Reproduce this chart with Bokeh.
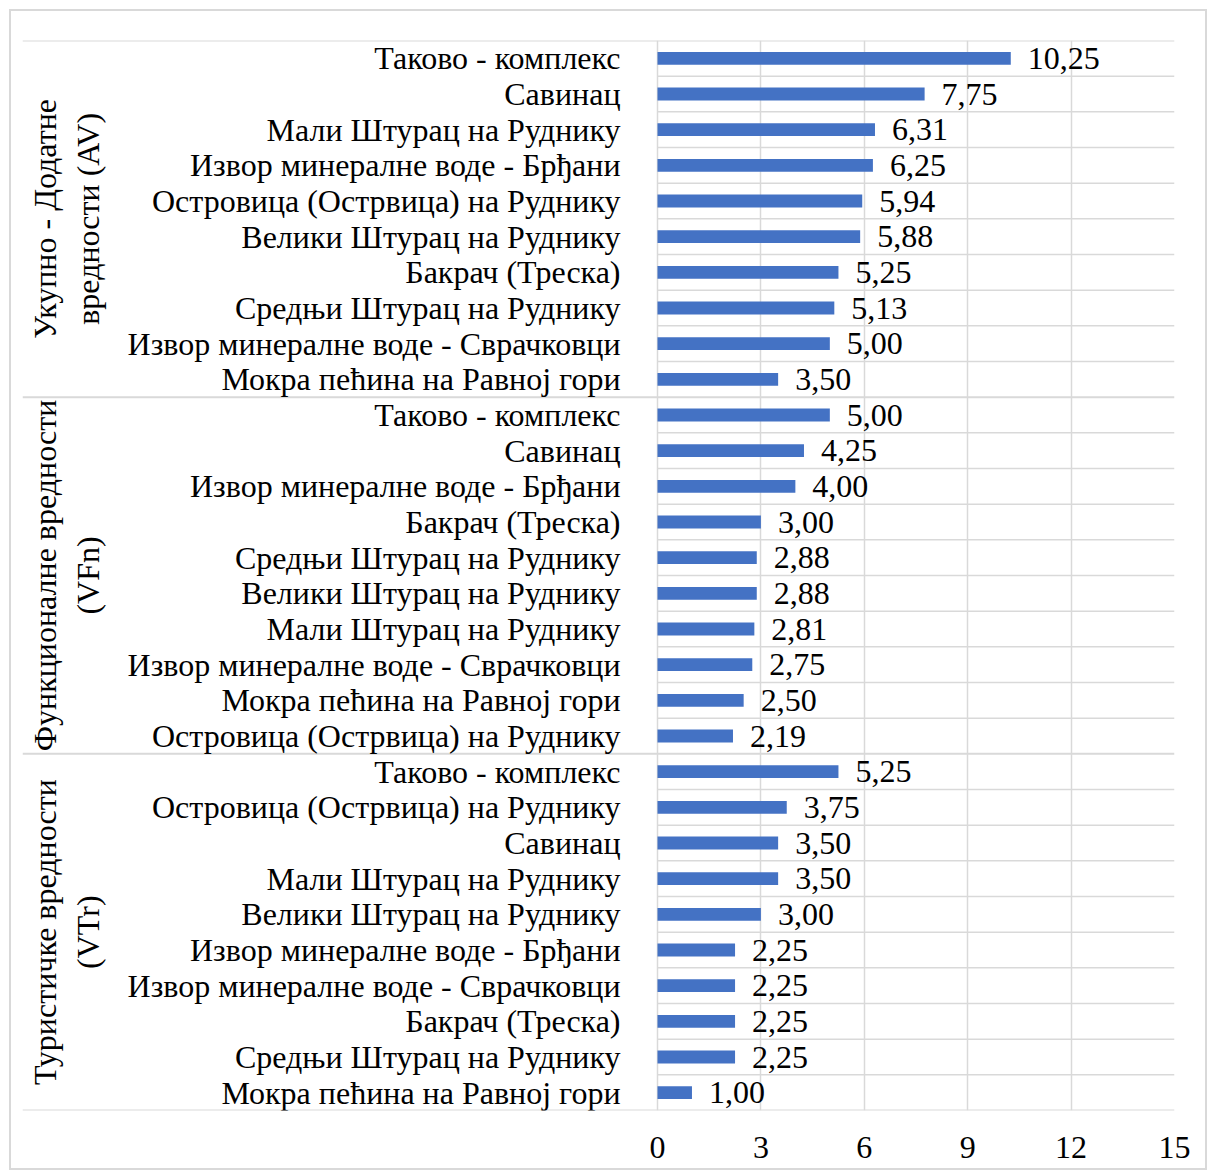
import math
from bokeh.plotting import figure
from bokeh.models import Range1d, FixedTicker, ColumnDataSource
from bokeh.core.properties import value
from bokeh.embed import file_html
from bokeh.resources import INLINE

# ---- data ----
group_line1 = ["Укупно - Додатне", "Функционалне вредности", "Туристичке вредности"]
group_line2 = ["вредности (AV)", "(VFn)", "(VTr)"]

names_av = ["Таково - комплекс", "Савинац", "Мали Штурац на Руднику",
            "Извор минералне воде - Брђани", "Островица (Острвица) на Руднику",
            "Велики Штурац на Руднику", "Бакрач (Треска)", "Средњи Штурац на Руднику",
            "Извор минералне воде - Сврачковци", "Мокра пећина на Равној гори"]
values_av = [10.25, 7.75, 6.31, 6.25, 5.94, 5.88, 5.25, 5.13, 5.00, 3.50]

names_vfn = ["Таково - комплекс", "Савинац", "Извор минералне воде - Брђани",
             "Бакрач (Треска)", "Средњи Штурац на Руднику", "Велики Штурац на Руднику",
             "Мали Штурац на Руднику", "Извор минералне воде - Сврачковци",
             "Мокра пећина на Равној гори", "Островица (Острвица) на Руднику"]
values_vfn = [5.00, 4.25, 4.00, 3.00, 2.88, 2.88, 2.81, 2.75, 2.50, 2.19]

names_vtr = ["Таково - комплекс", "Островица (Острвица) на Руднику", "Савинац",
             "Мали Штурац на Руднику", "Велики Штурац на Руднику",
             "Извор минералне воде - Брђани", "Извор минералне воде - Сврачковци",
             "Бакрач (Треска)", "Средњи Штурац на Руднику", "Мокра пећина на Равној гори"]
values_vtr = [5.25, 3.75, 3.50, 3.50, 3.00, 2.25, 2.25, 2.25, 2.25, 1.00]

x_ticks = [0, 3, 6, 9, 12, 15]

# ---- derived ----
all_names = names_av + names_vfn + names_vtr
all_values = values_av + values_vfn + values_vtr
n = len(all_names)
centers = [i + 0.5 for i in range(n)]
labels = [f"{v:.2f}".replace(".", ",") for v in all_values]
group_sizes = [len(names_av), len(names_vfn), len(names_vtr)]
group_bounds = [0]
for s in group_sizes:
    group_bounds.append(group_bounds[-1] + s)
group_centers = [(group_bounds[k] + group_bounds[k + 1]) / 2 for k in range(3)]
inner_bounds = [b for b in range(1, n) if b not in group_bounds]

FONT = value("Liberation Serif")
FS = "32px"
GRID = "#d9d9d9"

OFF = 11  # figure origin on the page
W, H = 1194, 1157
frame_left, frame_right = 22 - OFF, 1174 - OFF
frame_top, frame_bottom = 40 - OFF, 1110 - OFF
zero_px = 657 - OFF
scale = (frame_right - zero_px) / (x_ticks[-1] - x_ticks[0])
x_start = -(zero_px - frame_left) / scale

p = figure(width=W, height=H, output_backend="svg", toolbar_location=None,
           x_range=Range1d(x_start, x_ticks[-1]), y_range=Range1d(n, 0),
           y_axis_location=None, min_border_left=frame_left,
           min_border_right=W - frame_right, min_border_top=frame_top,
           min_border_bottom=H - frame_bottom)
p.outline_line_color = None
p.background_fill_color = "white"
p.border_fill_color = "white"
p.styles = {"margin": f"{OFF}px 0 0 {OFF}px", "outline": "2px solid #d9d9d9"}

# grids
p.xaxis.ticker = FixedTicker(ticks=x_ticks)
p.xgrid.grid_line_color = GRID
p.xgrid.grid_line_width = 1.5
p.ygrid.visible = False
p.segment(x0=[x_ticks[0]] * len(inner_bounds), x1=[x_ticks[-1]] * len(inner_bounds),
          y0=inner_bounds, y1=inner_bounds, line_color=GRID, line_width=1.5)
p.segment(x0=[x_start] * len(group_bounds), x1=[x_ticks[-1]] * len(group_bounds),
          y0=group_bounds, y1=group_bounds, line_color=GRID, line_width=2)

# x axis
p.xaxis.axis_line_color = None
p.xaxis.major_tick_line_color = None
p.xaxis.minor_tick_line_color = None
p.xaxis.major_label_text_font = "Liberation Serif"
p.xaxis.major_label_text_font_size = FS
p.xaxis.major_label_text_color = "black"
p.xaxis.major_label_standoff = 20

src = ColumnDataSource(dict(y=centers, v=all_values, name=all_names, lab=labels,
                            zero=[0] * n))
p.hbar(y="y", left="zero", right="v", height=0.36, source=src,
       fill_color="#4472C4", line_color=None)
p.text(x="zero", y="y", text="name", source=src, text_align="right",
       text_baseline="middle", x_offset=-37, text_font=FONT, text_font_size=FS,
       text_color="black")
p.text(x="v", y="y", text="lab", source=src, text_align="left",
       text_baseline="middle", x_offset=17, text_font=FONT, text_font_size=FS,
       text_color="black")

gsrc = ColumnDataSource(dict(y=group_centers, l1=group_line1, l2=group_line2,
                             zero=[0] * 3))
p.text(x="zero", y="y", text="l1", source=gsrc, angle=math.pi / 2,
       text_align="center", text_baseline="middle", x_offset=-(657 - 44),
       text_font=FONT, text_font_size=FS, text_color="black")
p.text(x="zero", y="y", text="l2", source=gsrc, angle=math.pi / 2,
       text_align="center", text_baseline="middle", x_offset=-(657 - 87),
       text_font=FONT, text_font_size=FS, text_color="black")

open("out.html", "w").write(file_html(p, INLINE))
